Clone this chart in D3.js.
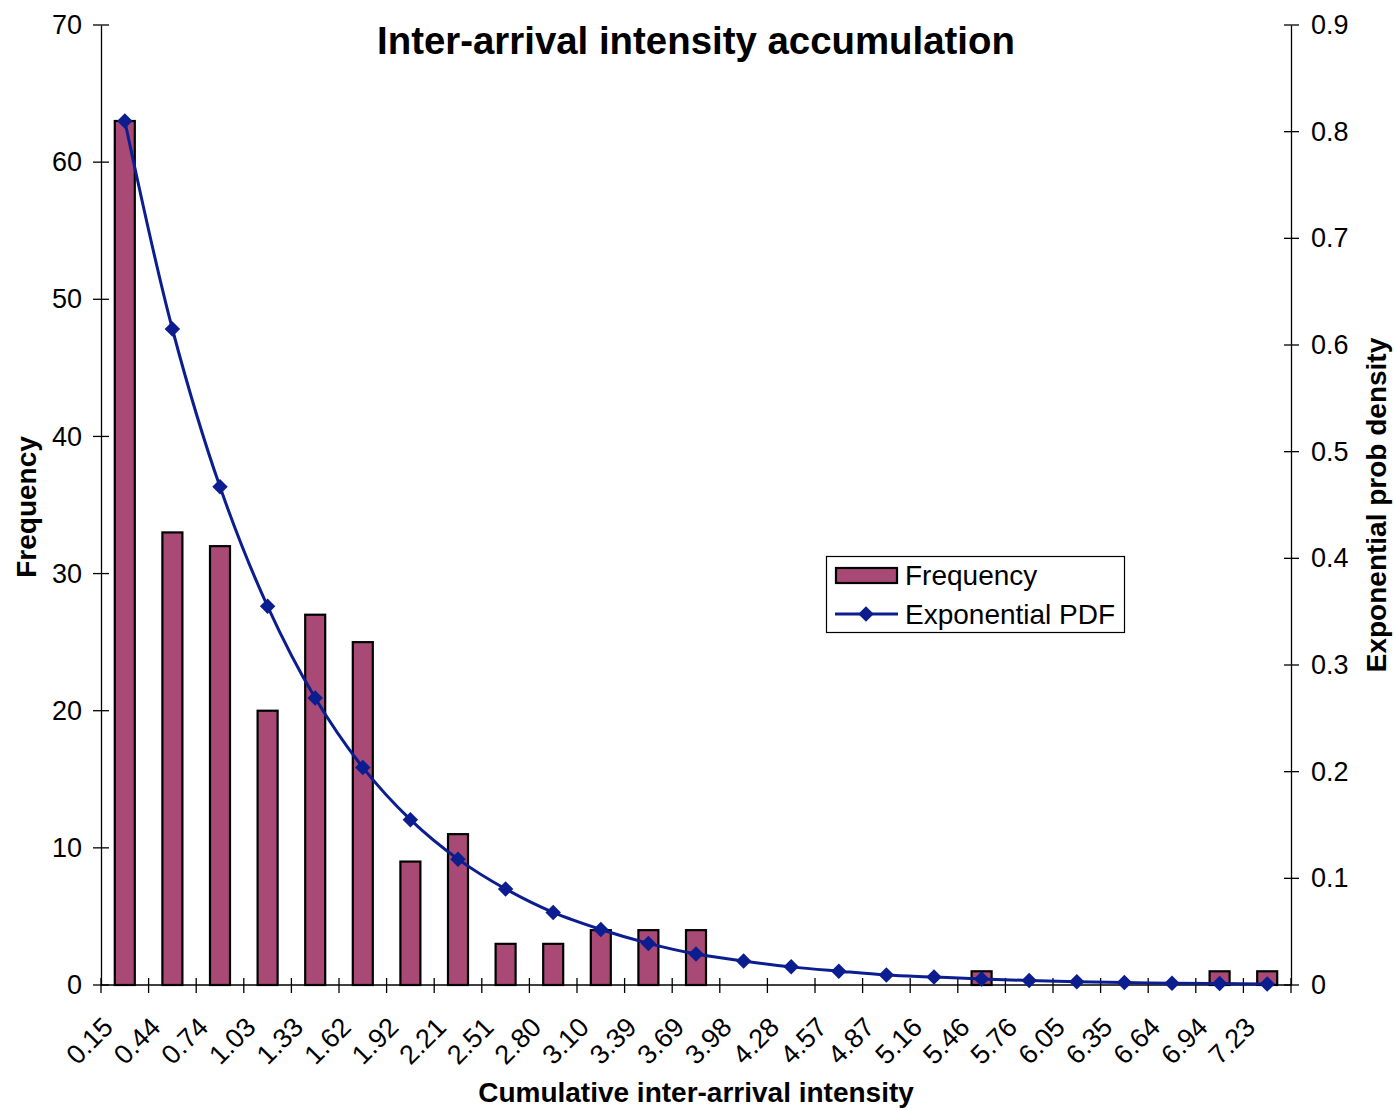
<!DOCTYPE html>
<html><head><meta charset="utf-8">
<script src="https://cdn.jsdelivr.net/npm/d3@7"></script>
<style>
html,body{margin:0;padding:0;background:#fff;}
svg text{font-family:"Liberation Sans",Arial,sans-serif;fill:#000;}
</style></head>
<body>
<script>
const categories = ["0.15","0.44","0.74","1.03","1.33","1.62","1.92","2.21","2.51","2.80","3.10","3.39","3.69","3.98","4.28","4.57","4.87","5.16","5.46","5.76","6.05","6.35","6.64","6.94","7.23"];
const frequency = [63,33,32,20,27,25,9,11,3,3,4,4,4,0,0,0,0,0,1,0,0,0,0,1,1];
const expPdf = [0.81,0.615,0.467,0.355,0.269,0.204,0.155,0.118,0.090,0.068,0.052,0.039,0.029,0.0225,0.017,0.013,0.0094,0.0075,0.0056,0.0042,0.0031,0.0023,0.0017,0.0013,0.001];
const leftTicks = [0,10,20,30,40,50,60,70];
const rightTicks = [0,0.1,0.2,0.3,0.4,0.5,0.6,0.7,0.8,0.9];

const W=1394,H=1110;
const L=101,R=1291,T=25,B=985;
const barColor="#a94a76", lineColor="#0b1d8f";
const FS=27;

const svg=d3.select("body").append("svg").attr("width",W).attr("height",H);

const x=d3.scaleBand().domain(categories).range([L,R]).paddingInner(0).paddingOuter(0);
const yL=d3.scaleLinear().domain([0,70]).range([B,T]);
const yR=d3.scaleLinear().domain([0,0.9]).range([B,T]);
const barW=20;

// bars
svg.append("g").selectAll("rect").data(categories).join("rect")
  .attr("x",(d)=>x(d)+x.bandwidth()/2-barW/2)
  .attr("y",(d,i)=>yL(frequency[i]))
  .attr("width",barW)
  .attr("height",(d,i)=>B-yL(frequency[i]))
  .attr("fill",barColor).attr("stroke","#000").attr("stroke-width",2.2)
  .attr("display",(d,i)=>frequency[i]>0?null:"none");

// axes
const gx=svg.append("g").attr("transform",`translate(0,${B})`);
gx.append("line").attr("x1",L).attr("x2",R).attr("y1",0).attr("y2",0).attr("stroke","#000").attr("stroke-width",1.3);
const bounds=categories.map(c=>x(c)).concat([R]);
gx.selectAll("line.tk").data(bounds).join("line").attr("class","tk")
  .attr("x1",d=>d).attr("x2",d=>d).attr("y1",-7).attr("y2",8).attr("stroke","#000").attr("stroke-width",1.3);
gx.selectAll("text").data(categories).join("text")
  .attr("transform",d=>`translate(${x(d)+x.bandwidth()/2-24},${30}) rotate(-45)`)
  .attr("text-anchor","end").attr("dy","0.72em").attr("font-size",FS).text(d=>d);

const gyL=svg.append("g").attr("transform",`translate(${L},0)`);
gyL.call(d3.axisLeft(yL).tickValues(leftTicks).tickSize(0).tickPadding(19).tickFormat(d3.format("d")));
gyL.select(".domain").attr("stroke","#000").attr("stroke-width",1.3);
gyL.selectAll("text").attr("font-size",FS).attr("font-family","Liberation Sans, Arial, sans-serif");
gyL.selectAll("line.t2").data(leftTicks).join("line").attr("class","t2")
  .attr("x1",-8).attr("x2",8).attr("y1",d=>yL(d)).attr("y2",d=>yL(d)).attr("stroke","#000").attr("stroke-width",1.3);

const gyR=svg.append("g").attr("transform",`translate(${R},0)`);
gyR.call(d3.axisRight(yR).tickValues(rightTicks).tickSize(0).tickPadding(20).tickFormat(d=>d===0?"0":d3.format(".1f")(d)));
gyR.select(".domain").attr("stroke","#000").attr("stroke-width",1.3);
gyR.selectAll("text").attr("font-size",FS).attr("font-family","Liberation Sans, Arial, sans-serif");
gyR.selectAll("line.t2").data(rightTicks).join("line").attr("class","t2")
  .attr("x1",-7).attr("x2",8).attr("y1",d=>yR(d)).attr("y2",d=>yR(d)).attr("stroke","#000").attr("stroke-width",1.3);

// line
const line=d3.line().x((d,i)=>x(categories[i])+x.bandwidth()/2).y(d=>yR(d)).curve(d3.curveCatmullRom.alpha(0.5));
svg.append("path").datum(expPdf).attr("d",line).attr("fill","none").attr("stroke",lineColor).attr("stroke-width",3);
const sym=d3.symbol(d3.symbolSquare,120);
svg.append("g").selectAll("path").data(expPdf).join("path")
  .attr("d",sym)
  .attr("transform",(d,i)=>`translate(${x(categories[i])+x.bandwidth()/2},${yR(d)}) rotate(45)`)
  .attr("fill",lineColor);

// titles
svg.append("text").attr("x",696).attr("y",54).attr("text-anchor","middle").attr("font-size",38.4).attr("font-weight","bold").text("Inter-arrival intensity accumulation");
svg.append("text").attr("x",696).attr("y",1102).attr("text-anchor","middle").attr("font-size",28).attr("font-weight","bold").text("Cumulative inter-arrival intensity");
svg.append("text").attr("transform","translate(36,507) rotate(-90)").attr("text-anchor","middle").attr("font-size",28).attr("font-weight","bold").text("Frequency");
svg.append("text").attr("transform","translate(1386,505) rotate(-90)").attr("text-anchor","middle").attr("font-size",28).attr("font-weight","bold").text("Exponential prob density");

// legend
const lg=svg.append("g");
lg.append("rect").attr("x",826.5).attr("y",556.5).attr("width",298).attr("height",76).attr("fill","#fff").attr("stroke","#000").attr("stroke-width",1.2);
lg.append("rect").attr("x",836).attr("y",568).attr("width",61).attr("height",15).attr("fill",barColor).attr("stroke","#000").attr("stroke-width",2.2);
lg.append("text").attr("x",905).attr("y",585).attr("font-size",28).text("Frequency");
lg.append("line").attr("x1",835).attr("x2",898).attr("y1",614).attr("y2",614).attr("stroke",lineColor).attr("stroke-width",3);
lg.append("path").attr("d",sym).attr("transform","translate(866,614) rotate(45)").attr("fill",lineColor);
lg.append("text").attr("x",905).attr("y",624).attr("font-size",28).text("Exponential PDF");
</script>
</body></html>
